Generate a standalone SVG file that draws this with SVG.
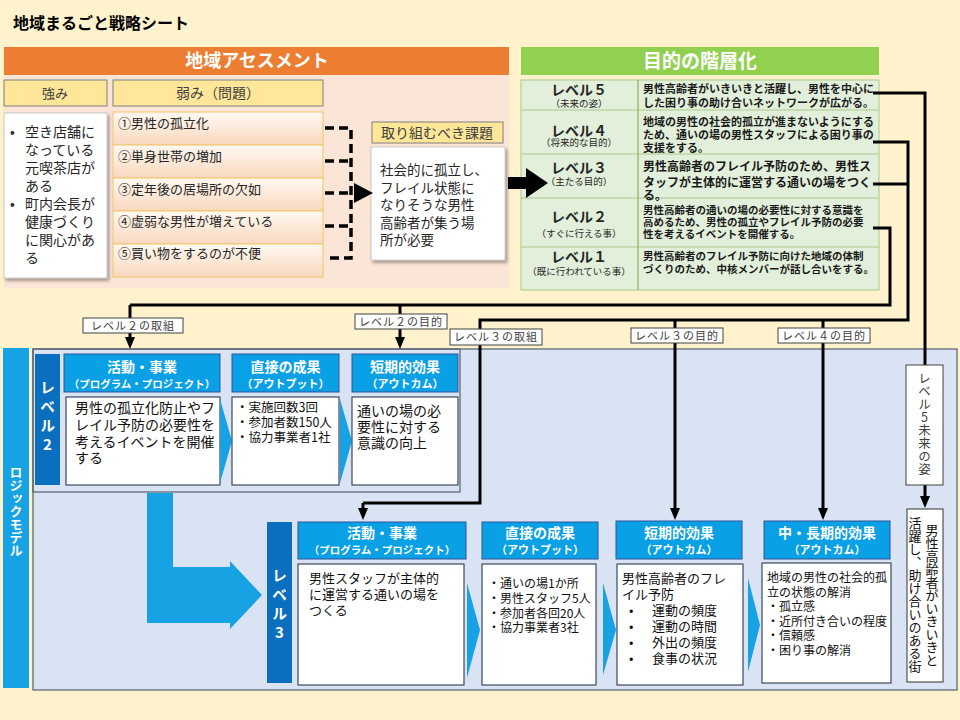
<svg xmlns="http://www.w3.org/2000/svg" width="960" height="720" viewBox="0 0 960 720">
<style>
text { font-family: "Noto Sans CJK JP", "Noto Sans", sans-serif; fill: #000; }
.title { font-size: 16px; font-weight: bold; }
.bandT { font-size: 18px; font-weight: bold; fill: #fff; text-anchor: middle; }
.ylw { fill: #FFE699; stroke: #7F7F7F; stroke-width: 1; }
.ylwT { font-size: 14px; fill: #404040; text-anchor: middle; }
.card { fill: #fff; stroke: #BFBFBF; stroke-width: 0.8; }
.cardT { font-size: 14px; fill: #262626; }
.weak { fill: url(#wg); stroke: #F2C46D; stroke-width: 1; }
.weakT { font-size: 13px; fill: #262626; }
.dash { fill: none; stroke: #000; stroke-width: 3.5; stroke-dasharray: 9 5; }
.tbl { fill: #E2EFDA; stroke: #A9C98A; stroke-width: 1; }
.tline { stroke: #A9C98A; stroke-width: 1.2; }
.lvT { font-size: 14px; font-weight: bold; fill: #262626; text-anchor: middle; }
.lvS { font-size: 9.5px; fill: #262626; text-anchor: middle; }
.goalT { font-weight: bold; fill: #1a1a1a; }
.conn { fill: none; stroke: #000; stroke-width: 3; }
.arw { marker-end: url(#ah); }
.lbl { fill: #fff; stroke: #404040; stroke-width: 1; }
.lblT { font-size: 11px; fill: #404040; text-anchor: middle; letter-spacing: 1px; }
.lmbar { fill: #17A2E3; }
.lmpanel { fill: #DAE3F3; stroke: #56606E; stroke-width: 1.2; }
.lvbar { fill: #0B6FBF; }
.vT { writing-mode: vertical-rl; text-orientation: upright; }
.barT { font-size: 15px; font-weight: bold; fill: #fff; letter-spacing: 4px; }
.hd { fill: #0AA0E6; stroke: #2F5597; stroke-width: 1; }
.hdT { font-size: 14px; font-weight: bold; fill: #fff; text-anchor: middle; }
.hdS { font-size: 11px; font-weight: bold; fill: #fff; text-anchor: middle; }
.box { fill: #fff; stroke: #3B4A5E; stroke-width: 1.2; }
.chev { fill: #17A2E3; }
.bx14 { font-size: 14px; fill: #111; }
.bx13 { font-size: 13px; fill: #111; }
.bx12 { font-size: 12px; fill: #111; }
</style>
<defs>
<linearGradient id="wg" x1="0" y1="0" x2="0" y2="1">
<stop offset="0" stop-color="#FFF9F2"/>
<stop offset="1" stop-color="#F9D8BE"/>
</linearGradient>
<filter id="sh" x="-10%" y="-10%" width="130%" height="130%">
<feDropShadow dx="2" dy="2.5" stdDeviation="1.5" flood-color="#000" flood-opacity="0.35"/>
</filter>
<marker id="ah" viewBox="0 0 12 10" refX="4" refY="5" markerWidth="12" markerHeight="10" markerUnits="userSpaceOnUse" orient="auto">
<path d="M0,0 L12,5 L0,10 z" fill="#000"/>
</marker>
</defs>

<rect x="0" y="0" width="960" height="720" fill="#FFF2CC"/>
<text class="title" x="13" y="29">地域まるごと戦略シート</text>

<!-- Assessment -->
<g id="assessment">
<rect x="4" y="75" width="505" height="213" fill="#FBE5D6"/>
<rect x="4" y="47" width="505" height="28" fill="#ED7D31"/>
<text class="bandT" x="257" y="67">地域アセスメント</text>
</g>

<g id="strength-header">
<rect class="ylw" x="4" y="80" width="103" height="26"/>
<text class="ylwT" x="55" y="98" style="font-size:13px">強み</text>
</g>
<g id="weakness-header">
<rect class="ylw" x="113" y="80" width="210" height="26"/>
<text class="ylwT" x="218" y="98">弱み（問題）</text>
</g>

<g id="strength">
<rect class="card" x="4" y="113" width="103" height="165" filter="url(#sh)"/>
<text class="cardT">
<tspan x="10" y="137">•</tspan><tspan x="25" y="137">空き店舗に</tspan>
<tspan x="25" y="155">なっている</tspan>
<tspan x="25" y="173">元喫茶店が</tspan>
<tspan x="25" y="191">ある</tspan>
<tspan x="10" y="209">•</tspan><tspan x="25" y="209">町内会長が</tspan>
<tspan x="25" y="227">健康づくり</tspan>
<tspan x="25" y="245">に関心があ</tspan>
<tspan x="25" y="263">る</tspan>
</text>
</g>

<g id="weak1"><rect class="weak" x="113" y="112" width="210" height="33"/><text class="weakT" x="118" y="128">①男性の孤立化</text></g>
<g id="weak2"><rect class="weak" x="113" y="145" width="210" height="33"/><text class="weakT" x="118" y="161">②単身世帯の増加</text></g>
<g id="weak3"><rect class="weak" x="113" y="178" width="210" height="33"/><text class="weakT" x="118" y="194">③定年後の居場所の欠如</text></g>
<g id="weak4"><rect class="weak" x="113" y="211" width="210" height="33"/><text class="weakT" x="118" y="226">④虚弱な男性が増えている</text></g>
<g id="weak5"><rect class="weak" x="113" y="244" width="210" height="33"/><text class="weakT" x="118" y="258">⑤買い物をするのが不便</text></g>

<g id="task-header">
<rect class="ylw" x="372" y="122" width="131" height="21"/>
<text class="ylwT" x="437" y="138">取り組むべき課題</text>
</g>
<g id="task">
<rect class="card" x="371" y="147" width="134" height="113" filter="url(#sh)"/>
<text class="cardT" style="font-size:13.5px">
<tspan x="380" y="175">社会的に孤立し、</tspan>
<tspan x="380" y="192.5">フレイル状態に</tspan>
<tspan x="380" y="210">なりそうな男性</tspan>
<tspan x="380" y="227.5">高齢者が集う場</tspan>
<tspan x="380" y="245">所が必要</tspan>
</text>
</g>

<!-- Hierarchy -->
<g id="hierarchy">
<rect x="521" y="47" width="358" height="28" fill="#92D050"/>
<text class="bandT" x="700" y="68" style="font-size:19px">目的の階層化</text>
<rect class="tbl" x="521" y="80" width="358" height="210"/>
<line class="tline" x1="521" y1="110" x2="879" y2="110"/>
<line class="tline" x1="521" y1="154" x2="879" y2="154"/>
<line class="tline" x1="521" y1="198" x2="879" y2="198"/>
<line class="tline" x1="521" y1="247" x2="879" y2="247"/>
<line x1="638" y1="80" x2="638" y2="290" stroke="#8DB05F" stroke-width="1.2"/>
</g>
<g id="level5">
<text class="lvT" x="579" y="95">レベル５</text>
<text class="lvS" x="579" y="107">（未来の姿）</text>
<text class="goalT" style="font-size:11px"><tspan x="643" y="93">男性高齢者がいきいきと活躍し、男性を中心に</tspan><tspan x="643" y="107">した困り事の助け合いネットワークが広がる。</tspan></text>
</g>
<g id="level4">
<text class="lvT" x="579" y="136">レベル４</text>
<text class="lvS" x="579" y="146">（将来的な目的）</text>
<text class="goalT" style="font-size:11px"><tspan x="643" y="126">地域の男性の社会的孤立が進まないようにする</tspan><tspan x="643" y="139">ため、通いの場の男性スタッフによる困り事の</tspan><tspan x="643" y="152">支援をする。</tspan></text>
</g>
<g id="level3">
<text class="lvT" x="579" y="173">レベル３</text>
<text class="lvS" x="579" y="185">（主たる目的）</text>
<text class="goalT" style="font-size:12px"><tspan x="643" y="171">男性高齢者のフレイル予防のため、男性ス</tspan><tspan x="643" y="187">タッフが主体的に運営する通いの場をつく</tspan><tspan x="643" y="200">る。</tspan></text>
</g>
<g id="level2">
<text class="lvT" x="579" y="222">レベル２</text>
<text class="lvS" x="579" y="237">（すぐに行える事）</text>
<text class="goalT" style="font-size:10.5px"><tspan x="643" y="214">男性高齢者の通いの場の必要性に対する意識を</tspan><tspan x="643" y="226">高めるため、男性の孤立やフレイル予防の必要</tspan><tspan x="643" y="238">性を考えるイベントを開催する。</tspan></text>
</g>
<g id="level1">
<text class="lvT" x="579" y="262">レベル１</text>
<text class="lvS" x="579" y="275">（既に行われている事）</text>
<text class="goalT" style="font-size:10.5px"><tspan x="643" y="260">男性高齢者のフレイル予防に向けた地域の体制</tspan><tspan x="643" y="273">づくりのため、中核メンバーが話し合いをする。</tspan></text>
</g>

<!-- Logic model -->
<g id="logic-model">
<rect class="lmbar" x="3" y="348" width="26" height="340"/>
<text class="vT" x="16" y="466" style="font-size:13px;font-weight:bold;fill:#fff">ロジックモデル</text>
<rect class="lmpanel" x="33" y="349" width="924" height="341"/>
<rect x="33" y="349" width="427" height="143" fill="none" stroke="#56606E" stroke-width="1.2"/>
</g>

<g id="big-arrow">
<polygon class="chev" points="147,493 173,493 173,567 230,567 230,561 262,595 230,629 230,623 147,623"/>
</g>

<g id="l2-bar"><rect class="lvbar" x="35" y="354" width="25" height="131"/><text class="vT barT" x="47.5" y="380">レベル2</text></g>
<g id="l2-activity">
<rect class="hd" x="64" y="354" width="156" height="38"/>
<text class="hdT" x="142" y="372">活動・事業</text>
<text class="hdS" x="142" y="388" style="font-size:10.5px">（プログラム・プロジェクト）</text>
<rect class="box" x="66" y="397" width="154" height="88"/>
<text class="bx14"><tspan x="75" y="413">男性の孤立化防止やフ</tspan><tspan x="75" y="430">レイル予防の必要性を</tspan><tspan x="75" y="447">考えるイベントを開催</tspan><tspan x="75" y="463">する</tspan></text>
</g>
<polygon class="chev" points="220,399 232,441 220,483"/>
<g id="l2-output">
<rect class="hd" x="232" y="354" width="107" height="38"/>
<text class="hdT" x="285.5" y="372">直接の成果</text>
<text class="hdS" x="285.5" y="388">（アウトプット）</text>
<rect class="box" x="232" y="397" width="107" height="88"/>
<text class="bx12" style="font-size:12.5px"><tspan x="236" y="412">・実施回数3回</tspan><tspan x="236" y="427">・参加者数150人</tspan><tspan x="236" y="442">・協力事業者1社</tspan></text>
</g>
<polygon class="chev" points="340,399 352,441 340,483"/>
<g id="l2-outcome">
<rect class="hd" x="352" y="354" width="106" height="38"/>
<text class="hdT" x="405" y="372">短期的効果</text>
<text class="hdS" x="405" y="388">（アウトカム）</text>
<rect class="box" x="352" y="397" width="106" height="88"/>
<text class="bx14"><tspan x="357" y="416">通いの場の必</tspan><tspan x="357" y="432">要性に対する</tspan><tspan x="357" y="448">意識の向上</tspan></text>
</g>

<g id="l3-bar"><rect class="lvbar" x="267" y="522" width="25" height="161"/><text class="vT barT" x="279.5" y="568">レベル3</text></g>
<g id="l3-activity">
<rect class="hd" x="298" y="522" width="168" height="37"/>
<text class="hdT" x="382" y="538">活動・事業</text>
<text class="hdS" x="382" y="554" style="font-size:10.5px">（プログラム・プロジェクト）</text>
<rect class="box" x="298" y="564" width="166" height="121"/>
<text class="bx13"><tspan x="309" y="583">男性スタッフが主体的</tspan><tspan x="309" y="599">に運営する通いの場を</tspan><tspan x="309" y="615">つくる</tspan></text>
</g>
<polygon class="chev" points="467,583 480,630 467,678"/>
<g id="l3-output">
<rect class="hd" x="482" y="522" width="116" height="37"/>
<text class="hdT" x="540" y="538">直接の成果</text>
<text class="hdS" x="540" y="554">（アウトプット）</text>
<rect class="box" x="482" y="564" width="114" height="121"/>
<text class="bx12"><tspan x="488" y="588">・通いの場1か所</tspan><tspan x="488" y="603">・男性スタッフ5人</tspan><tspan x="488" y="618">・参加者各回20人</tspan><tspan x="488" y="632">・協力事業者3社</tspan></text>
</g>
<polygon class="chev" points="603,583 616,630 603,675"/>
<g id="l3-short">
<rect class="hd" x="616" y="521" width="126" height="38"/>
<text class="hdT" x="679" y="538">短期的効果</text>
<text class="hdS" x="679" y="554">（アウトカム）</text>
<rect class="box" x="617" y="564" width="126" height="121"/>
<text class="bx13"><tspan x="622" y="583">男性高齢者のフレ</tspan><tspan x="622" y="599">イル予防</tspan>
<tspan x="629" y="615">•</tspan><tspan x="652" y="615">運動の頻度</tspan>
<tspan x="629" y="631">•</tspan><tspan x="652" y="631">運動の時間</tspan>
<tspan x="629" y="647">•</tspan><tspan x="652" y="647">外出の頻度</tspan>
<tspan x="629" y="663">•</tspan><tspan x="652" y="663">食事の状況</tspan></text>
</g>
<polygon class="chev" points="748,578 760,625 748,672"/>
<g id="l3-long">
<rect class="hd" x="764" y="521" width="126" height="38"/>
<text class="hdT" x="827" y="538">中・長期的効果</text>
<text class="hdS" x="827" y="554">（アウトカム）</text>
<rect class="box" x="762" y="563" width="129" height="120"/>
<text class="bx12"><tspan x="767" y="582">地域の男性の社会的孤</tspan><tspan x="767" y="597">立の状態の解消</tspan><tspan x="767" y="611">・孤立感</tspan><tspan x="767" y="626">・近所付き合いの程度</tspan><tspan x="767" y="640">・信頼感</tspan><tspan x="767" y="655">・困り事の解消</tspan></text>
</g>
<g id="vision">
<rect class="box" x="907" y="509" width="36" height="173" style="stroke:#333;stroke-width:1"/>
<text class="vT" x="932" y="524" style="font-size:13px;fill:#111">男性高齢者がいきいきと</text>
<text class="vT" x="915" y="517" style="font-size:13px;fill:#111">活躍し、助け合いのある街</text>
</g>

<!-- Connectors -->
<g id="connectors">
<path class="conn arw" d="M873,93 H925 V500"/>
<path class="conn" d="M873,142 H908 V320 H480 V503 H363"/>
<path class="conn arw" d="M363,503 V512"/>
<path class="conn" d="M873,184 H908"/>
<path class="conn arw" d="M675,319 V512"/>
<path class="conn arw" d="M823,319 V512"/>
<path class="conn" d="M873,228 H890 V305 H130"/>
<path class="conn arw" d="M130,305 V341"/>
<path class="conn arw" d="M400,305 V341"/>
<path class="dash" d="M325,128 H351 V258 H325"/>
<path class="dash" d="M325,161 H351 M325,193 H351 M325,226 H351"/>
<polygon points="354,183 373,193 354,203" fill="#000"/>
<polygon points="508,177 526,177 526,168 548,183 526,198 526,189 508,189" fill="#000"/>
</g>

<!-- Connector labels -->
<g id="label-l2-act"><rect class="lbl" x="83" y="318" width="100" height="15"/><text class="lblT" x="133" y="330">レベル２の取組</text></g>
<g id="label-l2-goal"><rect class="lbl" x="355" y="314" width="92" height="15"/><text class="lblT" x="401" y="326">レベル２の目的</text></g>
<g id="label-l3-act"><rect class="lbl" x="450" y="329" width="92" height="16"/><text class="lblT" x="496" y="341">レベル３の取組</text></g>
<g id="label-l3-goal"><rect class="lbl" x="631" y="328" width="92" height="15"/><text class="lblT" x="677" y="340">レベル３の目的</text></g>
<g id="label-l4-goal"><rect class="lbl" x="778" y="328" width="92" height="15"/><text class="lblT" x="824" y="340">レベル４の目的</text></g>
<g id="label-l5"><rect class="lbl" x="906" y="365" width="37" height="120"/><text class="vT" x="924.5" y="372" style="font-size:12.5px;fill:#404040;letter-spacing:0.5px">レベル5未来の姿</text></g>
</svg>
